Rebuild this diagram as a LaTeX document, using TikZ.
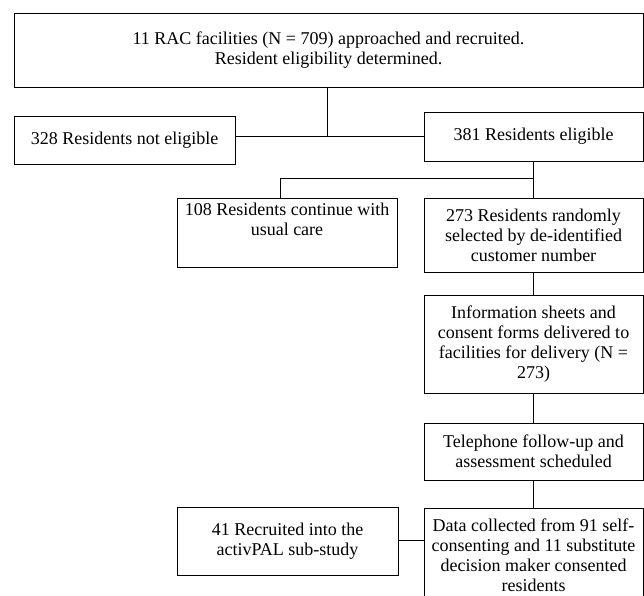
\documentclass[tikz,border=0pt]{standalone}
\usepackage{fontspec}
\setmainfont{Liberation Serif}
\begin{document}
\begin{tikzpicture}[x=1pt,y=-1pt,
  box/.style={draw, line width=0.9pt, inner sep=0pt, align=center,
    font=\fontsize{18}{20}\selectfont},
  conn/.style={line width=0.9pt}]
\useasboundingbox (0,0) rectangle (644,595);
\clip (0,0) rectangle (644,595);
\node[box, minimum width=629pt, minimum height=74pt] (top) at (328.5,50)
  {11 RAC facilities (N = 709) approached and recruited.\\Resident eligibility determined.};
\node[box, minimum width=221pt, minimum height=48pt] (ne) at (124.5,140)
  {328 Residents not eligible};
\node[box, minimum width=219pt, minimum height=49pt] (el) at (533.5,136.5)
  {381 Residents eligible};
\node[box, minimum width=220pt, minimum height=69pt] (usual) at (287,232.5)
  {108 Residents continue with\\usual care\\\strut};
\node[box, minimum width=219pt, minimum height=74pt] (rand) at (533.5,235)
  {273 Residents randomly\\selected by de-identified\\customer number};
\node[box, minimum width=219pt, minimum height=98pt] (info) at (533.5,344)
  {Information sheets and\\consent forms delivered to\\facilities for delivery (N =\\273)};
\node[box, minimum width=219pt, minimum height=57pt] (tel) at (533.5,451.5)
  {Telephone follow-up and\\assessment scheduled};
\node[box, minimum width=221pt, minimum height=68pt] (sub) at (287.5,541)
  {41 Recruited into the\\activPAL sub-study};
\node[box, minimum width=219pt, minimum height=95pt] (data) at (533.5,555.5)
  {Data collected from 91 self-\\consenting and 11 substitute\\decision maker consented\\residents};
\coordinate (j1) at (327,136);
\coordinate (j2) at (280,178);
\coordinate (j3) at (410,540);
\draw[conn] (top.south -| j1) -- (j1);
\draw[conn] (ne.east |- j1) -- (el.west |- j1);
\draw[conn] (el.south) -- (rand.north);
\draw[conn] (el.south |- j2) -- (j2) -- (usual.north -| j2);
\draw[conn] (rand.south) -- (info.north);
\draw[conn] (info.south) -- (tel.north);
\draw[conn] (tel.south) -- (data.north);
\draw[conn] (sub.east |- j3) -- (data.west |- j3);
\end{tikzpicture}
\end{document}
